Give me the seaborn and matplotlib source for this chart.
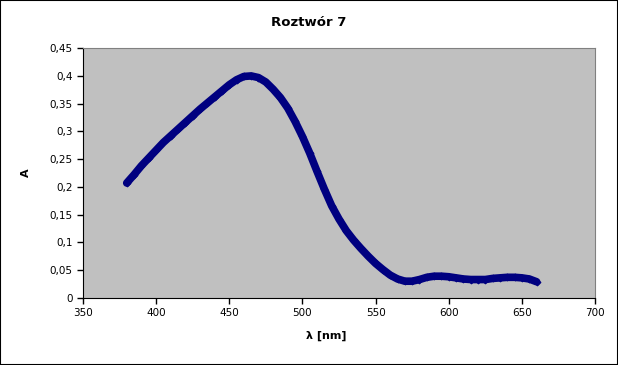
import numpy as np
import pandas as pd
import matplotlib
matplotlib.use("Agg")
import matplotlib.pyplot as plt
import seaborn as sns
from matplotlib.ticker import FuncFormatter, MultipleLocator

# Absorbance spectrum
wavelength = [380, 385, 390, 395, 400, 405, 410, 415, 420, 425, 430, 435, 440, 445,
              450, 455, 460, 465, 470, 475, 480, 485, 490, 495, 500, 505, 510, 515,
              520, 525, 530, 535, 540, 545, 550, 555, 560, 565, 570, 575, 580, 585,
              590, 595, 600, 605, 610, 615, 620, 625, 630, 635, 640, 645, 650, 655, 660]
absorbance = [0.207, 0.222, 0.238, 0.252, 0.266, 0.280, 0.292, 0.304, 0.316, 0.328,
              0.340, 0.351, 0.362, 0.373, 0.384, 0.393, 0.399, 0.400, 0.397, 0.389,
              0.376, 0.361, 0.342, 0.318, 0.291, 0.261, 0.228, 0.196, 0.166, 0.142,
              0.121, 0.104, 0.089, 0.075, 0.062, 0.051, 0.041, 0.034, 0.030, 0.030,
              0.033, 0.037, 0.039, 0.039, 0.038, 0.036, 0.034, 0.033, 0.033, 0.033,
              0.035, 0.036, 0.037, 0.037, 0.036, 0.034, 0.029]

df = pd.DataFrame({"wl": wavelength, "A": absorbance})

sns.set_style("white")
plt.rcParams['font.family'] = ['DejaVu Sans']
plt.rcParams['text.color'] = 'black'
plt.rcParams['axes.labelcolor'] = 'black'

fig = plt.figure(figsize=(6.18, 3.65), dpi=100)
ax = fig.add_axes([0.134, 0.184, 0.829, 0.684])
ax.set_facecolor("#C0C0C0")

sns.lineplot(data=df, x="wl", y="A", ax=ax, color="#000080", linewidth=5.5,
             marker="D", markersize=3.5, markeredgecolor="#000080",
             solid_capstyle="round", solid_joinstyle="round")

ax.set_xlim(350, 700)
ax.set_ylim(0, 0.45)
ax.xaxis.set_major_locator(MultipleLocator(50))
ax.yaxis.set_major_locator(MultipleLocator(0.05))
ax.yaxis.set_major_formatter(FuncFormatter(lambda v, p: f"{v:.2f}".rstrip("0").rstrip(".").replace(".", ",")))

for s in ["top", "right"]:
    ax.spines[s].set_color("#808080")
for s in ["bottom", "left"]:
    ax.spines[s].set_color("black")
ax.tick_params(axis="both", direction="out", length=4, width=1, colors="black",
               labelsize=7.5, bottom=True, left=True)

fig.suptitle("Roztwór 7", x=0.5, y=0.955, fontsize=9.5, fontweight="bold", color="black")
ax.set_xlabel("λ [nm]", fontsize=8, fontweight="bold")
ax.xaxis.set_label_coords(0.475, -0.13)
ax.set_ylabel("A", fontsize=8, fontweight="bold", labelpad=13, rotation=90)

fig.patches.append(plt.Rectangle((0, 0), 1, 1, transform=fig.transFigure,
                                 fill=False, edgecolor="black", linewidth=1.5))

fig.savefig("out.png", dpi=100)
